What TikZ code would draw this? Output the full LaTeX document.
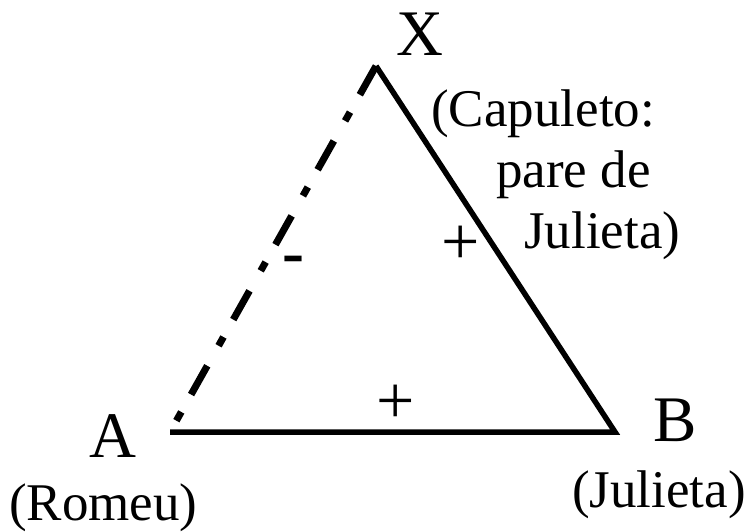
\documentclass[tikz,border=0pt]{standalone}
\usepackage{fontspec}
\setmainfont{Liberation Serif}
\begin{document}
\begin{tikzpicture}[x=1pt,y=-1pt,
  lbl/.style={inner sep=0pt, font=\fontsize{53}{61}\selectfont},
  big/.style={inner sep=0pt, font=\fontsize{65}{70}\selectfont},
  sgn/.style={inner sep=0pt, font=\fontsize{68}{70}\selectfont},
  solidedge/.style={line width=5.5pt, line join=miter},
  negedge/.style={line width=7pt, dash pattern=on 33pt off 20pt on 10pt off 23pt}]
\useasboundingbox (0,0) rectangle (748,532);
\coordinate (pA) at (170,432);
\coordinate (pB) at (615,432);
\coordinate (pX) at (376,66);
\draw[negedge] (pX) -- (pA);
\draw[solidedge] (pA) -- (pB) -- (pX);
\node[big, anchor=base west] (X) at (396,56) {X};
\node[big, anchor=base west] (A) at (89,457) {A};
\node[big, anchor=base west] (B) at (653,441) {B};
\node[lbl, anchor=base west] (romeu) at (9,520) {(Romeu)};
\node[lbl, anchor=base west] (julieta) at (572,507) {(Julieta)};
\node[lbl, anchor=base west, align=left] (capu) at (431,248) {(Capuleto:\\\hspace*{65pt}pare de\\\hspace*{93pt}Julieta)};
\node[sgn] (pxb) at (461,245) {+};
\node[sgn] (pab) at (396,404) {+};
\node[inner sep=0pt, font=\fontsize{66}{70}\selectfont\bfseries] (mxa) at (293,265) {-};
\end{tikzpicture}
\end{document}
